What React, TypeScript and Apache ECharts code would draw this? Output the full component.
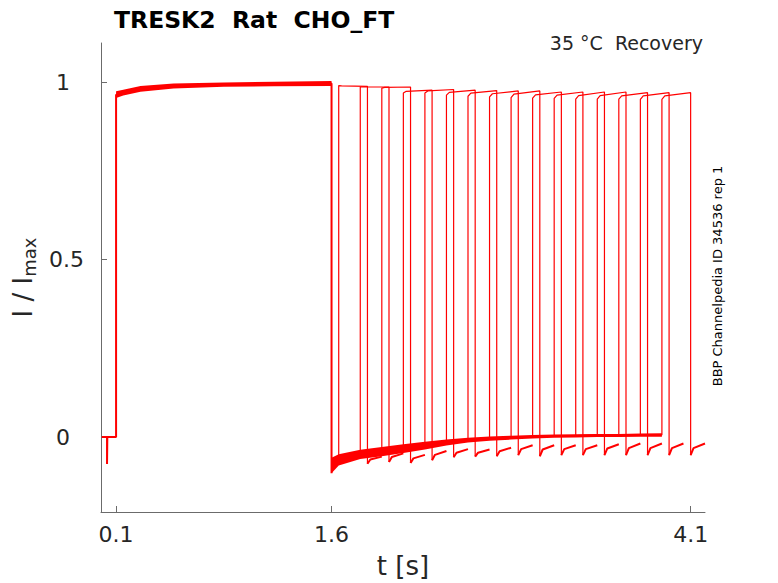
import { useEffect, useRef } from 'react';
import * as echarts from 'echarts';

const RED = '#ff0000';
const INK = '#262626';
const AXIS = '#6b6b6b';
const FONT = 'DejaVu Sans';

const xTicks = [0.1, 1.6, 4.1];
const yTicks = [0, 0.5, 1];

// holding level, artefact, step onto the prepulse (same for every sweep)
const baseTimes = [0, 0.037, 0.037, 0.039, 0.1, 0.1];
const baseValues = [0, 0, -0.076, 0, 0, 0.962];

// prepulse 0.1 .. 1.6 s, overlaid sweeps form a band
const preTimes = [0.1, 0.15, 0.27, 0.5, 0.85, 1.2, 1.6];
const preMean = [0.964, 0.97, 0.981, 0.989, 0.993, 0.995, 0.996];
const preUpper = [0.974, 0.978, 0.989, 0.996, 0.999, 1.001, 1.003];
const preLower = [0.955, 0.962, 0.973, 0.982, 0.987, 0.988, 0.989];

// tail current after the prepulse, sampled at the test pulse onsets
const tailTimes = [1.6, 1.65, 1.8, 1.95, 2.1, 2.25, 2.4, 2.55, 2.7, 2.85, 3.0, 3.15, 3.3, 3.45, 3.6, 3.75, 3.9];
const tailMean = [-0.088, -0.064, -0.049, -0.041, -0.032, -0.024, -0.016, -0.01, -0.005, -0.002, 0.001, 0.003, 0.004, 0.005, 0.005, 0.006, 0.006];
const tailUpper = [-0.058, -0.048, -0.036, -0.028, -0.02, -0.013, -0.007, -0.002, 0.002, 0.004, 0.006, 0.007, 0.008, 0.009, 0.009, 0.01, 0.011];
const tailLower = [-0.102, -0.08, -0.062, -0.054, -0.045, -0.035, -0.024, -0.015, -0.01, -0.007, -0.004, -0.002, -0.001, 0, 0, 0.001, 0.001];

// test pulses, one per sweep
const testStarts = [1.65, 1.8, 1.95, 2.1, 2.25, 2.4, 2.55, 2.7, 2.85, 3.0, 3.15, 3.3, 3.45, 3.6, 3.75, 3.9];
const testEnds = [1.85, 2.0, 2.15, 2.3, 2.45, 2.6, 2.75, 2.9, 3.05, 3.2, 3.35, 3.5, 3.65, 3.8, 3.95, 4.1];
const sweepEnds = [1.95, 2.1, 2.25, 2.4, 2.55, 2.7, 2.85, 3.0, 3.15, 3.3, 3.45, 3.6, 3.75, 3.9, 4.05, 4.2];
const testFirst = [0.99, 0.986, 0.983, 0.969, 0.969, 0.963, 0.96, 0.958, 0.956, 0.955, 0.954, 0.952, 0.952, 0.952, 0.951, 0.951];
const testMid = [0.989, 0.986, 0.985, 0.974, 0.975, 0.971, 0.969, 0.967, 0.966, 0.964, 0.963, 0.962, 0.962, 0.961, 0.961, 0.961];
const testLast = [0.988, 0.986, 0.986, 0.977, 0.979, 0.977, 0.976, 0.975, 0.975, 0.972, 0.972, 0.972, 0.972, 0.97, 0.97, 0.97];

// tail after each test pulse
const hookLow = [-0.075, -0.07, -0.073, -0.065, -0.057, -0.055, -0.054, -0.051, -0.054, -0.051, -0.051, -0.051, -0.051, -0.051, -0.051, -0.051];
const hookMid = [-0.063, -0.056, -0.06, -0.05, -0.044, -0.044, -0.04, -0.034, -0.035, -0.034, -0.034, -0.032, -0.031, -0.031, -0.031, -0.031];
const hookHigh = [-0.055, -0.046, -0.05, -0.039, -0.034, -0.035, -0.03, -0.023, -0.023, -0.023, -0.023, -0.02, -0.018, -0.018, -0.018, -0.018];

function commonTrace() {
  const pts: number[][] = baseTimes.map((t, i) => [t, baseValues[i]]);
  preTimes.forEach((t, i) => pts.push([t, preMean[i]]));
  pts.push([1.6, tailLower[0]]);
  return pts;
}

function sweepTrace(k: number) {
  const pts: number[][] = [];
  for (let i = 0; i <= k + 1; i++) pts.push([tailTimes[i], tailMean[i]]);
  pts.push([testStarts[k], testFirst[k]]);
  pts.push([testStarts[k] + 0.02, testMid[k]]);
  pts.push([testEnds[k], testLast[k]]);
  pts.push([testEnds[k], hookLow[k]]);
  return pts;
}

function hookTrace(k: number) {
  return [
    [testEnds[k], hookLow[k]],
    [testEnds[k] + 0.02, hookMid[k]],
    [sweepEnds[k], hookHigh[k]],
  ];
}

function band(times: number[], upper: number[], lower: number[]) {
  return {
    type: 'custom',
    silent: true,
    data: [[times[0], upper[0]]],
    renderItem: (_p: unknown, api: any) => {
      const pts = times.map((t, i) => api.coord([t, upper[i]]));
      for (let i = times.length - 1; i >= 0; i--) pts.push(api.coord([times[i], lower[i]]));
      return { type: 'polygon', shape: { points: pts }, style: { fill: RED } };
    },
  };
}

export default function App() {
  const chartRef = useRef<HTMLDivElement>(null);
  useEffect(() => {
    if (!chartRef.current) return;
    document.body.style.margin = '0';
    const chart = echarts.init(chartRef.current, undefined, { renderer: 'svg' });
    const lineSeries = (data: number[][], width: number) => ({
      type: 'line',
      data,
      showSymbol: false,
      silent: true,
      lineStyle: { color: RED, width },
    });
    chart.setOption({
      animation: false,
      grid: { left: 101, right: 73, top: 43, bottom: 71, outerBoundsMode: 'none' },
      xAxis: {
        type: 'value',
        min: -0.005,
        max: 4.2,
        name: 't [s]',
        nameLocation: 'middle',
        nameGap: 41,
        nameTextStyle: { fontSize: 26, color: INK, fontFamily: FONT },
        axisLine: { show: true, onZero: false, lineStyle: { color: AXIS } },
        axisTick: { show: true, inside: true, length: 6, customValues: xTicks, lineStyle: { color: AXIS } },
        axisLabel: {
          customValues: xTicks,
          fontSize: 22,
          margin: 11,
          color: INK,
          fontFamily: FONT,
          formatter: (v: number) => String(v),
        },
        splitLine: { show: false },
      },
      yAxis: {
        type: 'value',
        min: -0.211,
        max: 1.11,
        name: '{a|I / I}{b|max}',
        nameLocation: 'middle',
        nameGap: 60,
        nameRotate: 90,
        nameTextStyle: {
          color: INK,
          fontFamily: FONT,
          rich: {
            a: { fontSize: 26, lineHeight: 30, color: INK, fontFamily: FONT },
            b: { fontSize: 18, lineHeight: 16, verticalAlign: 'bottom', color: INK, fontFamily: FONT },
          },
        },
        axisLine: { show: true, onZero: false, lineStyle: { color: AXIS } },
        axisTick: { show: true, inside: true, length: 6, customValues: yTicks, lineStyle: { color: AXIS } },
        axisLabel: {
          customValues: yTicks,
          fontSize: 22,
          margin: 38,
          align: 'center',
          color: INK,
          fontFamily: FONT,
          formatter: (v: number) => (v === 0.5 ? '{s|0.5}' : String(v)),
          rich: { s: { fontSize: 22, color: INK, fontFamily: FONT, padding: [0, 0, 0, 7] } },
        },
        splitLine: { show: false },
      },
      graphic: [
        {
          type: 'text',
          x: 114,
          y: 20,
          style: { text: 'TRESK2  Rat  CHO_FT', fontSize: 23.5, fontWeight: 'bold', fontFamily: FONT, fill: '#000', align: 'left', verticalAlign: 'middle' },
        },
        {
          type: 'text',
          x: 703,
          y: 43,
          style: { text: '35 °C  Recovery', fontSize: 19, fontFamily: FONT, fill: INK, align: 'right', verticalAlign: 'middle' },
        },
        {
          type: 'text',
          x: 717,
          y: 276,
          rotation: Math.PI / 2,
          style: { text: 'BBP Channelpedia ID 34536 rep 1', fontSize: 13, fontFamily: FONT, fill: '#000', align: 'center', verticalAlign: 'middle' },
        },
      ],
      series: [
        band(preTimes, preUpper, preLower),
        band(tailTimes, tailUpper, tailLower),
        lineSeries(commonTrace(), 2),
        ...testStarts.map((_s, k) => lineSeries(sweepTrace(k), 1.2)),
        ...testStarts.map((_s, k) => lineSeries(hookTrace(k), 2)),
      ],
    });
    return () => chart.dispose();
  }, []);
  return <div ref={chartRef} style={{ width: 778, height: 583 }} />;
}
